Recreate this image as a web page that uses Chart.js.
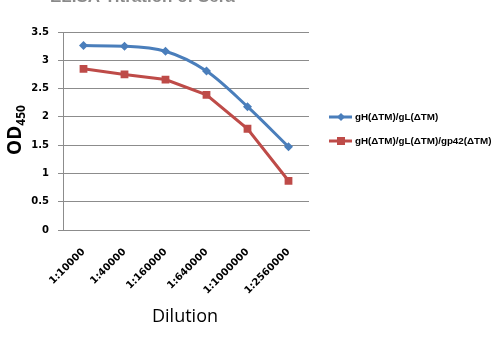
<!DOCTYPE html>
<html>
<head>
<meta charset="utf-8">
<script src="https://cdn.jsdelivr.net/npm/chart.js@4"></script>
<style>
  html, body { margin: 0; padding: 0; background: #fff; }
  #wrap { width: 497px; height: 341px; position: relative; }
</style>
</head>
<body>
<div id="wrap"><canvas id="odChart" width="497" height="341"></canvas></div>
<script>
const dilutions = ['1:10000', '1:40000', '1:160000', '1:640000', '1:1000000', '1:2560000'];
const ghglValues = [3.26, 3.25, 3.16, 2.81, 2.18, 1.47];
const ghglGp42Values = [2.85, 2.75, 2.66, 2.39, 1.79, 0.87];
const seriesNames = ['gH(\u0394TM)/gL(\u0394TM)', 'gH(\u0394TM)/gL(\u0394TM)/gp42(\u0394TM)'];
const yTicks = [0, 0.5, 1, 1.5, 2, 2.5, 3, 3.5];

const BLUE = '#4a7ebb';
const RED = '#be4b48';
const TICK_FONT = { family: '"DejaVu Sans"', weight: 'bold', size: 10 };

// titles and side legend drawn by hand
const decorations = {
    id: 'decorations',
    afterDraw(chart) {
        const ctx = chart.ctx;
        const area = chart.chartArea;
        ctx.save();

        // chart title, mostly above the top edge
        ctx.fillStyle = '#8a8a8a';
        ctx.font = 'bold 17px "Liberation Sans"';
        ctx.textAlign = 'left';
        ctx.textBaseline = 'alphabetic';
        ctx.fillText('ELISA Titration of Sera', 50, 2);

        // y title with subscript
        ctx.save();
        ctx.translate(21, 130);
        ctx.rotate(-Math.PI / 2);
        ctx.fillStyle = '#000';
        ctx.textBaseline = 'alphabetic';
        ctx.textAlign = 'left';
        ctx.font = 'bold 19px "Open Sans"';
        const odW = ctx.measureText('OD').width;
        ctx.font = 'bold 12px "Open Sans"';
        const subW = ctx.measureText('450').width;
        const x0 = -(odW + subW) / 2;
        ctx.font = 'bold 19px "Open Sans"';
        ctx.fillText('OD', x0, 0);
        ctx.font = 'bold 12px "Open Sans"';
        ctx.fillText('450', x0 + odW, 4);
        ctx.restore();

        // x title
        ctx.fillStyle = '#000';
        ctx.font = '18px "Open Sans"';
        ctx.textAlign = 'center';
        ctx.textBaseline = 'middle';
        ctx.fillText('Dilution', (area.left + area.right) / 2 - 1, 317);

        // legend
        const rows = [
            { name: seriesNames[0], color: BLUE, style: 'diamond', y: 117 },
            { name: seriesNames[1], color: RED, style: 'square', y: 141 }
        ];
        rows.forEach(r => {
            ctx.strokeStyle = r.color;
            ctx.lineWidth = 3;
            ctx.beginPath();
            ctx.moveTo(329, r.y);
            ctx.lineTo(352, r.y);
            ctx.stroke();
            ctx.fillStyle = r.color;
            ctx.beginPath();
            if (r.style === 'diamond') {
                ctx.moveTo(341, r.y - 4);
                ctx.lineTo(345, r.y);
                ctx.lineTo(341, r.y + 4);
                ctx.lineTo(337, r.y);
                ctx.closePath();
            } else {
                ctx.rect(337, r.y - 4, 8, 8);
            }
            ctx.fill();
            ctx.fillStyle = '#000';
            ctx.font = 'bold 9.8px "Liberation Sans"';
            ctx.textAlign = 'left';
            ctx.textBaseline = 'middle';
            ctx.fillText(r.name, 355, r.y);
        });
        ctx.restore();
    }
};

new Chart(document.getElementById('odChart').getContext('2d'), {
    type: 'line',
    data: {
        labels: dilutions,
        datasets: [{
            label: seriesNames[0],
            data: ghglValues,
            borderColor: BLUE,
            backgroundColor: BLUE,
            borderWidth: 3,
            cubicInterpolationMode: 'monotone',
            pointStyle: 'rectRot',
            pointRadius: 4.5,
            pointBorderWidth: 0
        }, {
            label: seriesNames[1],
            data: ghglGp42Values,
            borderColor: RED,
            backgroundColor: RED,
            borderWidth: 3,
            tension: 0,
            pointStyle: 'rect',
            pointRadius: 5.5,
            pointBorderWidth: 0
        }]
    },
    options: {
        responsive: false,
        animation: false,
        layout: { padding: { left: 0, right: 188, top: 32, bottom: 0 } },
        plugins: {
            legend: { display: false },
            tooltip: { enabled: false }
        },
        scales: {
            x: {
                offset: true,
                grid: { display: false, drawTicks: false },
                border: { color: '#8c8c8c', width: 1 },
                ticks: {
                    color: '#000',
                    font: TICK_FONT,
                    minRotation: 45,
                    maxRotation: 45,
                    autoSkip: false,
                    padding: 16
                },
                afterFit(scale) { scale.height = 111; }
            },
            y: {
                min: 0,
                max: 3.5,
                afterBuildTicks(scale) { scale.ticks = yTicks.map(v => ({ value: v })); },
                grid: { color: '#8c8c8c', tickLength: 5, drawOnChartArea: true },
                border: { color: '#8c8c8c', width: 1 },
                ticks: {
                    color: '#000',
                    font: TICK_FONT,
                    padding: 9,
                    callback: v => String(v)
                },
                afterFit(scale) { scale.width = 63; }
            }
        }
    },
    plugins: [decorations]
});
</script>
</body>
</html>
